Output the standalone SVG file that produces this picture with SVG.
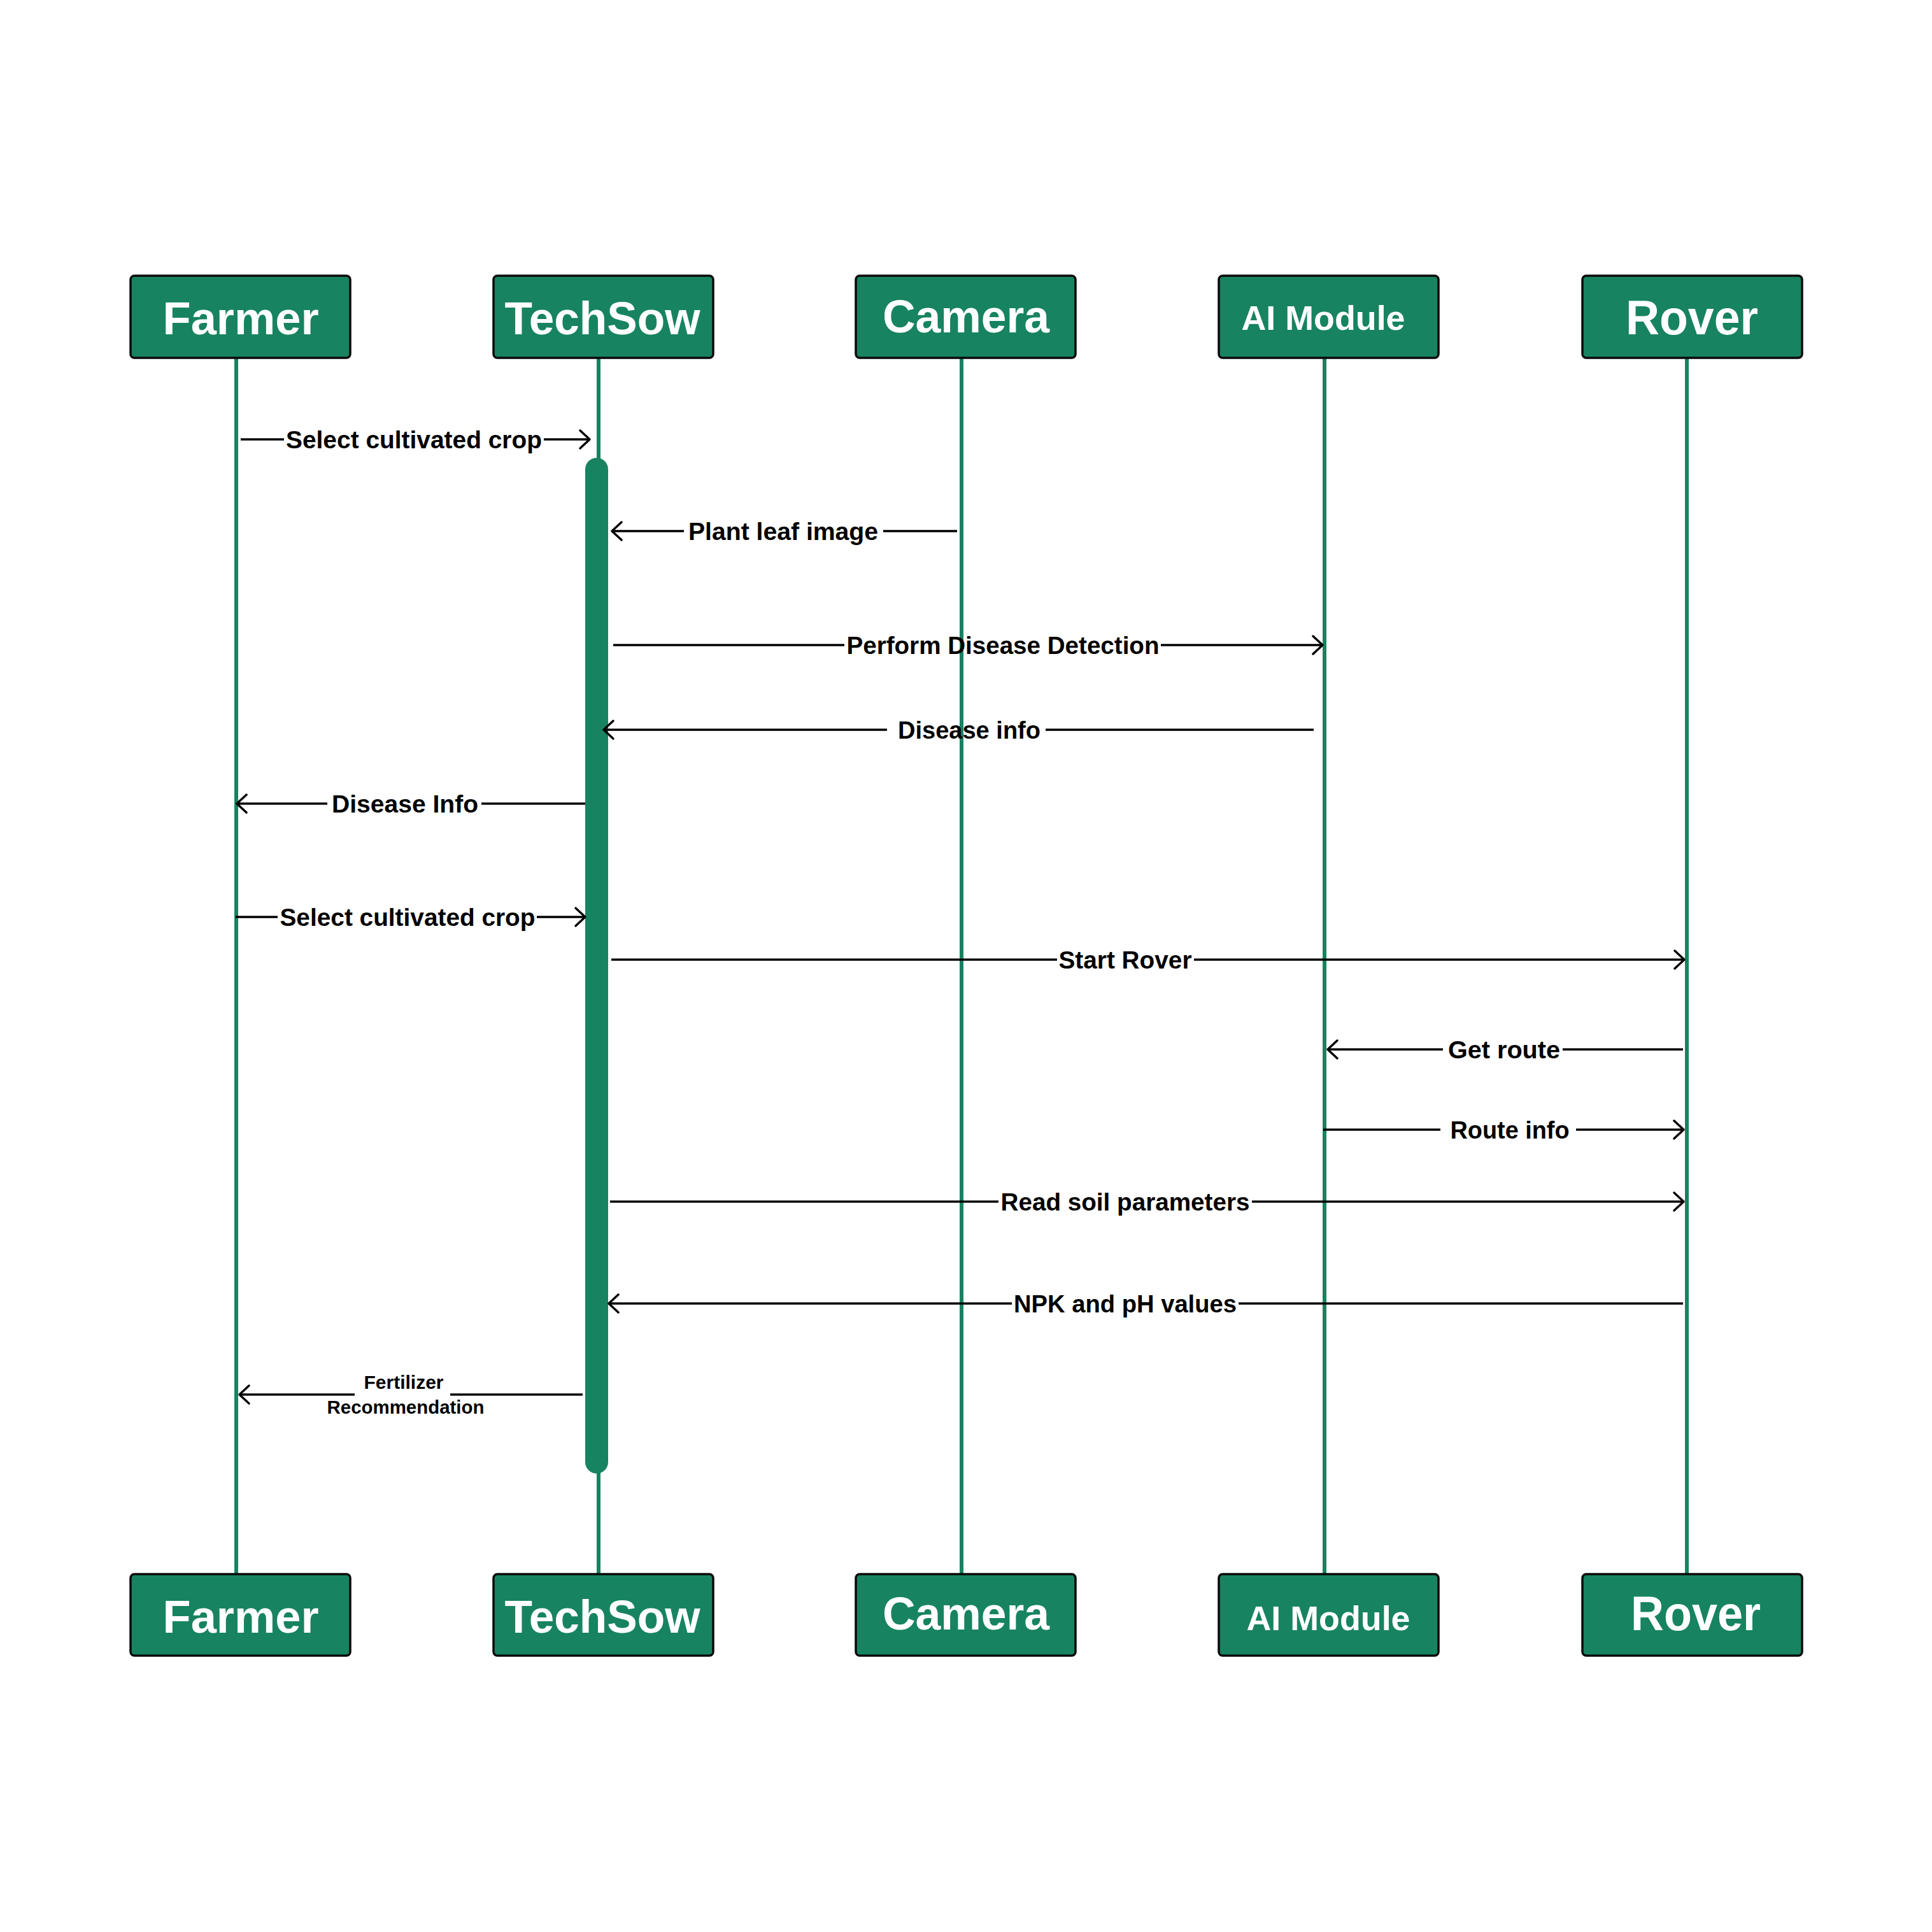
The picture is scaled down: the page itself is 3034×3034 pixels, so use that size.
<svg xmlns="http://www.w3.org/2000/svg" width="3034" height="3034" viewBox="0 0 3034 3034">
<style>
.box{fill:#178361;stroke:#0a0a0a;stroke-width:3.5}
.hd{font-family:"Liberation Sans",Arial,sans-serif;font-weight:bold;fill:#ffffff;text-anchor:middle}
.life{stroke:#178361;stroke-width:6;fill:none}
.msg{stroke:#000;stroke-width:3.5;fill:none}
.arr{stroke:#000;stroke-width:3.5;fill:none;marker-end:url(#ah)}
.lb{font-family:"Liberation Sans",Arial,sans-serif;font-weight:bold;font-size:39px;fill:#000;text-anchor:middle}
.lbs{font-family:"Liberation Sans",Arial,sans-serif;font-weight:bold;font-size:30px;fill:#000;text-anchor:middle}
</style>
<defs>
<marker id="ah" viewBox="-20 -17 24 34" refX="0" refY="0" markerWidth="24" markerHeight="34" markerUnits="userSpaceOnUse" orient="auto">
<path d="M-15,-14 L0,0 L-15,14" fill="none" stroke="#000" stroke-width="3.5" stroke-linecap="round" stroke-linejoin="round"/>
</marker>
</defs>
<rect width="3034" height="3034" fill="#ffffff"/>
<g id="lifelines">
<line class="life" x1="371" y1="562" x2="371" y2="2472"/>
<line class="life" x1="940" y1="562" x2="940" y2="2472"/>
<line class="life" x1="1510" y1="562" x2="1510" y2="2472"/>
<line class="life" x1="2080" y1="562" x2="2080" y2="2472"/>
<line class="life" x1="2649" y1="562" x2="2649" y2="2472"/>
</g>
<g id="activation">
<rect x="919" y="719" width="36" height="1595" rx="18" fill="#178361"/>
</g>
<g id="farmer">
<rect class="box" x="205" y="433" width="345" height="129" rx="6"/>
<text class="hd" x="378" y="525" font-size="72" textLength="245" lengthAdjust="spacingAndGlyphs">Farmer</text>
<rect class="box" x="205" y="2472" width="345" height="128" rx="6"/>
<text class="hd" x="378" y="2564" font-size="72" textLength="245" lengthAdjust="spacingAndGlyphs">Farmer</text>
</g>
<g id="techsow">
<rect class="box" x="775" y="433" width="345" height="129" rx="6"/>
<text class="hd" x="946" y="525" font-size="72" textLength="307" lengthAdjust="spacingAndGlyphs">TechSow</text>
<rect class="box" x="775" y="2472" width="345" height="128" rx="6"/>
<text class="hd" x="946" y="2564" font-size="72" textLength="307" lengthAdjust="spacingAndGlyphs">TechSow</text>
</g>
<g id="camera">
<rect class="box" x="1344" y="433" width="345" height="129" rx="6"/>
<text class="hd" x="1517" y="522" font-size="72" textLength="262" lengthAdjust="spacingAndGlyphs">Camera</text>
<rect class="box" x="1344" y="2472" width="345" height="128" rx="6"/>
<text class="hd" x="1517" y="2559" font-size="72" textLength="262" lengthAdjust="spacingAndGlyphs">Camera</text>
</g>
<g id="ai-module">
<rect class="box" x="1914" y="433" width="345" height="129" rx="6"/>
<text class="hd" x="2078" y="518" font-size="54" textLength="257" lengthAdjust="spacingAndGlyphs">AI Module</text>
<rect class="box" x="1914" y="2472" width="345" height="128" rx="6"/>
<text class="hd" x="2086" y="2560" font-size="54" textLength="257" lengthAdjust="spacingAndGlyphs">AI Module</text>
</g>
<g id="rover">
<rect class="box" x="2485" y="433" width="345" height="129" rx="6"/>
<text class="hd" x="2657" y="525" font-size="76" textLength="208" lengthAdjust="spacingAndGlyphs">Rover</text>
<rect class="box" x="2485" y="2472" width="345" height="128" rx="6"/>
<text class="hd" x="2663" y="2560" font-size="76" textLength="204" lengthAdjust="spacingAndGlyphs">Rover</text>
</g>
<g id="connectors">
<line class="msg" x1="378" y1="690" x2="446" y2="690"/>
<line class="arr" x1="854" y1="690" x2="926" y2="690"/>
<text class="lb" x="650" y="704" textLength="402" lengthAdjust="spacingAndGlyphs">Select cultivated crop</text>

<line class="msg" x1="1503" y1="834" x2="1387" y2="834"/>
<line class="arr" x1="1074" y1="834" x2="961" y2="834"/>
<text class="lb" x="1230" y="848" textLength="298" lengthAdjust="spacingAndGlyphs">Plant leaf image</text>

<line class="msg" x1="963" y1="1013" x2="1326" y2="1013"/>
<line class="arr" x1="1823" y1="1013" x2="2077" y2="1013"/>
<text class="lb" x="1575" y="1027" textLength="491" lengthAdjust="spacingAndGlyphs">Perform Disease Detection</text>

<line class="msg" x1="2063" y1="1146" x2="1642" y2="1146"/>
<line class="arr" x1="1393" y1="1146" x2="948" y2="1146"/>
<text class="lb" x="1522" y="1160" textLength="224" lengthAdjust="spacingAndGlyphs">Disease info</text>

<line class="msg" x1="919" y1="1262" x2="756" y2="1262"/>
<line class="arr" x1="514" y1="1262" x2="372" y2="1262"/>
<text class="lb" x="636" y="1276" textLength="230" lengthAdjust="spacingAndGlyphs">Disease Info</text>

<line class="msg" x1="370" y1="1440" x2="436" y2="1440"/>
<line class="arr" x1="843" y1="1440" x2="919" y2="1440"/>
<text class="lb" x="640" y="1454" textLength="401" lengthAdjust="spacingAndGlyphs">Select cultivated crop</text>

<line class="msg" x1="960" y1="1507" x2="1660" y2="1507"/>
<line class="arr" x1="1875" y1="1507" x2="2645" y2="1507"/>
<text class="lb" x="1767" y="1521" textLength="209" lengthAdjust="spacingAndGlyphs">Start Rover</text>

<line class="msg" x1="2643" y1="1648" x2="2454" y2="1648"/>
<line class="arr" x1="2266" y1="1648" x2="2085" y2="1648"/>
<text class="lb" x="2362" y="1662" textLength="176" lengthAdjust="spacingAndGlyphs">Get route</text>

<line class="msg" x1="2078" y1="1774" x2="2262" y2="1774"/>
<line class="arr" x1="2475" y1="1774" x2="2644" y2="1774"/>
<text class="lb" x="2371" y="1788" textLength="187" lengthAdjust="spacingAndGlyphs">Route info</text>

<line class="msg" x1="958" y1="1887" x2="1568" y2="1887"/>
<line class="arr" x1="1966" y1="1887" x2="2644" y2="1887"/>
<text class="lb" x="1767" y="1901" textLength="391" lengthAdjust="spacingAndGlyphs">Read soil parameters</text>

<line class="msg" x1="2643" y1="2047" x2="1945" y2="2047"/>
<line class="arr" x1="1589" y1="2047" x2="956" y2="2047"/>
<text class="lb" x="1767" y="2061" textLength="350" lengthAdjust="spacingAndGlyphs">NPK and pH values</text>

<line class="msg" x1="915" y1="2190" x2="707" y2="2190"/>
<line class="arr" x1="557" y1="2190" x2="376" y2="2190"/>
<text class="lbs" x="634" y="2181" textLength="125" lengthAdjust="spacingAndGlyphs">Fertilizer</text>
<text class="lbs" x="637" y="2220" textLength="247" lengthAdjust="spacingAndGlyphs">Recommendation</text>
</g>
</svg>
